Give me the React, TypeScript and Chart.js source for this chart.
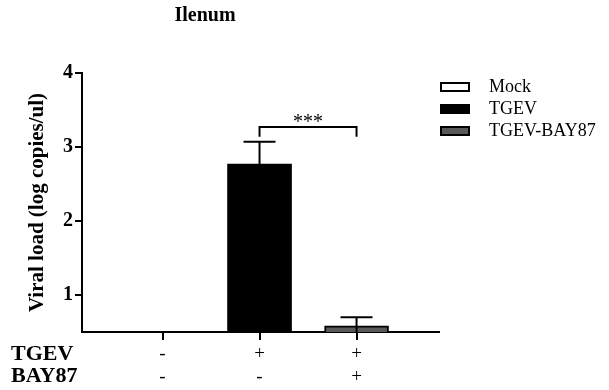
import React, { useEffect, useRef } from 'react';
import { Chart, registerables } from 'chart.js';

Chart.register(...registerables);

const chartTitle = 'Ilenum';
const yAxisTitle = 'Viral load (log copies/ul)';
const groups = ['Mock', 'TGEV', 'TGEV-BAY87'];
const groupX = [1, 2, 3];
const meanValues: (number | null)[] = [null, 2.77, 0.585];
const errorValues: (number | null)[] = [null, 0.3, 0.115];
const rowLabels = ['TGEV', 'BAY87'];
const tgevRow = ['-', '+', '+'];
const bay87Row = ['-', '-', '+'];
const yTicks = [1, 2, 3, 4];
const sigPair = [2, 3];
const sigLevel = 3.27;
const sigLegLow = 3.14;
const sigText = '***';
const fills = ['#ffffff', '#000000', '#595959'];

const FONT = "'Liberation Serif', 'Times New Roman', serif";

const overlay = {
  id: 'overlay',
  afterDatasetsDraw(chart: any) {
    const ctx = chart.ctx;
    const ys = chart.scales.y;
    const xs = chart.scales.x;
    const area = chart.chartArea;
    ctx.save();
    ctx.strokeStyle = '#000';
    ctx.lineWidth = 2;
    groups.forEach((g, i) => {
      const m = meanValues[i];
      const e = errorValues[i];
      if (m == null || e == null) return;
      const meta = chart.getDatasetMeta(i);
      const el = meta.data[0];
      if (!el) return;
      const x = el.x;
      const yTop = ys.getPixelForValue(m + e);
      const yLow = Math.min(ys.getPixelForValue(m - e), area.bottom);
      ctx.beginPath();
      ctx.moveTo(x, yLow);
      ctx.lineTo(x, yTop);
      ctx.moveTo(x - 16, yTop);
      ctx.lineTo(x + 16, yTop);
      ctx.stroke();
    });
    const x1 = xs.getPixelForValue(sigPair[0]);
    const x2 = xs.getPixelForValue(sigPair[1]);
    const yb = ys.getPixelForValue(sigLevel);
    const yl = ys.getPixelForValue(sigLegLow);
    ctx.beginPath();
    ctx.moveTo(x1, yl);
    ctx.lineTo(x1, yb);
    ctx.lineTo(x2, yb);
    ctx.lineTo(x2, yl);
    ctx.stroke();
    ctx.fillStyle = '#000';
    ctx.font = `20px ${FONT}`;
    ctx.textAlign = 'center';
    ctx.textBaseline = 'alphabetic';
    ctx.fillText(sigText, (x1 + x2) / 2, yb + 1);
    ctx.restore();
  },
  afterDraw(chart: any) {
    const ctx = chart.ctx;
    const xs = chart.scales.x;
    const ys = chart.scales.y;
    const area = chart.chartArea;
    ctx.save();
    ctx.strokeStyle = '#000';
    ctx.lineWidth = 2;
    ctx.beginPath();
    groupX.forEach((v) => {
      const px = Math.round(xs.getPixelForValue(v));
      ctx.moveTo(px, area.bottom);
      ctx.lineTo(px, area.bottom + 8);
    });
    yTicks.forEach((v) => {
      const py = Math.round(ys.getPixelForValue(v));
      ctx.moveTo(area.left - 7, py);
      ctx.lineTo(area.left, py);
    });
    ctx.stroke();
    ctx.fillStyle = '#000';
    ctx.font = `bold 20px ${FONT}`;
    ctx.textAlign = 'center';
    ctx.textBaseline = 'middle';
    ctx.fillText(chartTitle, 205, 16);
    ctx.font = `bold 22px ${FONT}`;
    ctx.textAlign = 'left';
    ctx.fillText(rowLabels[0], 11, 354);
    ctx.fillText(rowLabels[1], 11, 376);
    ctx.font = `18px ${FONT}`;
    groups.forEach((g, i) => {
      const cy = 87 + i * 22;
      ctx.fillStyle = fills[i];
      ctx.fillRect(441, cy - 4, 28, 8);
      ctx.strokeStyle = '#000';
      ctx.lineWidth = 2;
      ctx.strokeRect(441, cy - 4, 28, 8);
      ctx.fillStyle = '#000';
      ctx.textAlign = 'left';
      ctx.textBaseline = 'middle';
      ctx.fillText(g, 489, cy);
    });
    ctx.restore();
  },
};

export default function App() {
  const ref = useRef<HTMLCanvasElement>(null);
  useEffect(() => {
    if (!ref.current) return;
    Chart.defaults.font.family = FONT;
    Chart.defaults.color = '#000';
    const chart = new Chart(ref.current, {
      type: 'bar',
      data: {
        datasets: groups.map((g, i) => ({
          label: g,
          data: meanValues[i] == null ? [] : [{ x: groupX[i], y: meanValues[i] as number }],
          backgroundColor: fills[i],
          borderColor: '#000',
          borderWidth: i === 1 ? 0 : 2,
          barThickness: 64,
          grouped: false,
        })) as any,
      },
      options: {
        animation: false,
        responsive: false,
        maintainAspectRatio: false,
        layout: { padding: { left: 0, right: 170, top: 73, bottom: 0 } },
        plugins: {
          legend: { display: false },
          tooltip: { enabled: false },
          title: { display: false },
        },
        scales: {
          x: {
            type: 'linear',
            offset: false,
            min: 0.17,
            max: 3.85,
            afterBuildTicks: (scale: any) => {
              scale.ticks = groupX.map((v) => ({ value: v }));
            },
            afterFit: (scale: any) => {
              scale.height = 58;
            },
            ticks: {
              autoSkip: false,
              maxRotation: 0,
              padding: 4,
              font: { size: 19 },
              color: '#000',
              callback: (_v: any, i: number) => [tgevRow[i], bay87Row[i]],
            },
            grid: { offset: false, drawOnChartArea: false, drawTicks: true, tickLength: 7, color: '#000', lineWidth: 2 },
            border: { color: '#000', width: 2 },
          },
          y: {
            type: 'linear',
            min: 0.5,
            max: 4,
            afterBuildTicks: (scale: any) => {
              scale.ticks = yTicks.map((v) => ({ value: v }));
            },
            afterFit: (scale: any) => {
              scale.width = 82;
            },
            ticks: {
              padding: 3,
              font: { size: 20, weight: 'bold' },
              color: '#000',
            },
            grid: { drawOnChartArea: false, drawTicks: true, tickLength: 6, color: '#000', lineWidth: 2 },
            border: { color: '#000', width: 2 },
            title: {
              display: true,
              text: yAxisTitle,
              font: { size: 21, weight: 'bold' },
              color: '#000',
              padding: { top: 25, bottom: 0 },
            },
          },
        },
      },
      plugins: [overlay],
    });
    return () => chart.destroy();
  }, []);
  return (
    <div style={{ position: 'fixed', left: 0, top: 0, width: 609, height: 390, background: '#fff' }}>
      <canvas ref={ref} width={609} height={390} style={{ width: 609, height: 390, display: 'block' }} />
    </div>
  );
}
